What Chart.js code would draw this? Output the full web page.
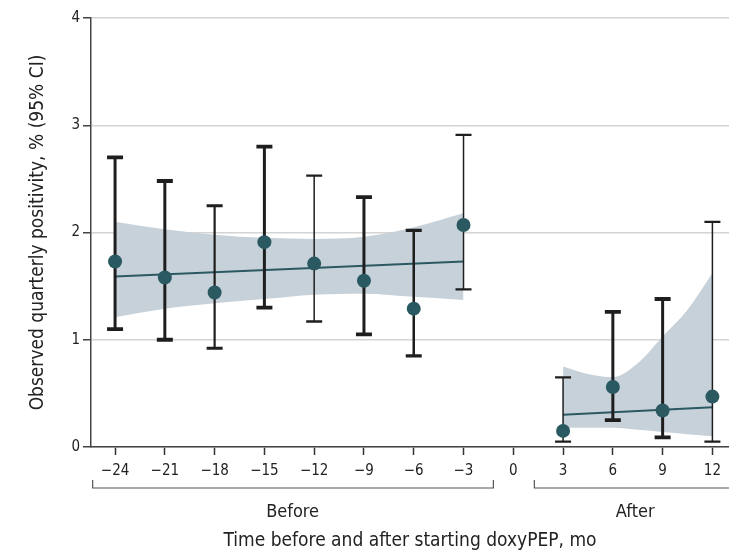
<!DOCTYPE html>
<html>
<head>
<meta charset="utf-8">
<script src="https://cdn.jsdelivr.net/npm/chart.js@4.4.1/dist/chart.umd.min.js"></script>
<style>
  body { margin: 0; background: #fff; }
  #wrap { width: 729px; height: 553px; }
</style>
</head>
<body>
<div id="wrap"><canvas id="myChart" width="729" height="553"></canvas></div>
<script>
const FONT = "'DejaVu Sans Condensed', 'Liberation Sans Narrow', sans-serif";

// observed quarterly positivity with 95% CI
const beforeMonths = [-24, -21, -18, -15, -12, -9, -6, -3];
const beforeObs = [1.73, 1.58, 1.44, 1.91, 1.71, 1.55, 1.29, 2.07];
const beforeLo = [1.10, 1.00, 0.92, 1.30, 1.17, 1.05, 0.85, 1.47];
const beforeHi = [2.70, 2.48, 2.25, 2.80, 2.53, 2.33, 2.02, 2.91];

const afterMonths = [3, 6, 9, 12];
const afterObs = [0.15, 0.56, 0.34, 0.47];
const afterLo = [0.05, 0.25, 0.09, 0.05];
const afterHi = [0.65, 1.26, 1.38, 2.10];

// fitted trend and its confidence band
const trendBeforeX = [-24, -3];
const trendBeforeY = [1.59, 1.73];
const trendAfterX = [3, 12];
const trendAfterY = [0.30, 0.37];

const bandBeforeX = [-24, -21, -18, -15, -12, -9, -6, -3];
const bandBeforeUpper = [2.10, 2.03, 1.98, 1.95, 1.94, 1.96, 2.05, 2.18];
const bandBeforeLower = [1.21, 1.29, 1.34, 1.38, 1.42, 1.43, 1.40, 1.37];

const bandAfterX = [3, 4.5, 6, 7.5, 9, 10.5, 12];
const bandAfterUpper = [0.75, 0.68, 0.65, 0.78, 1.03, 1.28, 1.62];
const bandAfterLower = [0.18, 0.18, 0.18, 0.16, 0.14, 0.12, 0.10];

const xTicks = [-24, -21, -18, -15, -12, -9, -6, -3, 0, 3, 6, 9, 12];
const yTicks = [0, 1, 2, 3, 4];

const months = beforeMonths.concat(afterMonths);
const obs = beforeObs.concat(afterObs);
const lo = beforeLo.concat(afterLo);
const hi = beforeHi.concat(afterHi);

const pts = (xs, ys) => xs.map((x, i) => ({ x: x, y: ys[i] }));

const BAND = '#c7d1d9';
const TEAL = '#2b5962';

const errorBars = {
  id: 'errorBars',
  beforeDatasetDraw(chart, args, opts) {
    if (args.index !== 0) return;
    const { ctx, scales: { x, y } } = chart;
    ctx.save();
    ctx.strokeStyle = opts.color;
    months.forEach((m, i) => {
      const px = x.getPixelForValue(m);
      const top = y.getPixelForValue(hi[i]);
      const bot = y.getPixelForValue(lo[i]);
      const w = opts.weights[i];
      ctx.lineWidth = w;
      ctx.beginPath();
      ctx.moveTo(px, top);
      ctx.lineTo(px, bot);
      ctx.stroke();
      ctx.lineWidth = w + 0.8;
      ctx.beginPath();
      ctx.moveTo(px - opts.cap, top);
      ctx.lineTo(px + opts.cap, top);
      ctx.moveTo(px - opts.cap, bot);
      ctx.lineTo(px + opts.cap, bot);
      ctx.stroke();
    });
    ctx.restore();
  }
};

const periodBrackets = {
  id: 'periodBrackets',
  afterDraw(chart, args, opts) {
    const { ctx, scales: { x } } = chart;
    const yLine = x.top + opts.offset;
    ctx.save();
    ctx.strokeStyle = '#555';
    ctx.lineWidth = 1.2;
    ctx.fillStyle = '#222';
    ctx.font = '18px ' + FONT;
    ctx.textAlign = 'center';
    ctx.textBaseline = 'middle';
    opts.groups.forEach(g => {
      const x0 = x.getPixelForValue(g.from);
      const x1 = Math.min(x.getPixelForValue(g.to), chart.width);
      ctx.beginPath();
      ctx.moveTo(x0, yLine - 8);
      ctx.lineTo(x0, yLine);
      ctx.lineTo(x1, yLine);
      if (g.closeRight) ctx.lineTo(x1, yLine - 8);
      ctx.stroke();
      ctx.fillText(g.label, x.getPixelForValue(g.labelAt), yLine + 24);
    });
    ctx.restore();
  }
};

new Chart(document.getElementById('myChart'), {
  type: 'scatter',
  data: {
    datasets: [
      {
        data: pts(months, obs),
        showLine: false,
        pointRadius: 7,
        pointBackgroundColor: TEAL,
        pointBorderWidth: 0,
        order: 0
      },
      {
        data: pts(trendBeforeX, trendBeforeY),
        showLine: true, borderColor: TEAL, borderWidth: 2, pointRadius: 0, order: 1
      },
      {
        data: pts(trendAfterX, trendAfterY),
        showLine: true, borderColor: TEAL, borderWidth: 2, pointRadius: 0, order: 1
      },
      {
        data: pts(bandBeforeX, bandBeforeUpper),
        showLine: true, borderWidth: 0, borderColor: BAND, backgroundColor: BAND,
        pointRadius: 0, fill: '+1', cubicInterpolationMode: 'monotone', order: 2
      },
      {
        data: pts(bandBeforeX, bandBeforeLower),
        showLine: true, borderWidth: 0, borderColor: BAND,
        pointRadius: 0, cubicInterpolationMode: 'monotone', order: 2
      },
      {
        data: pts(bandAfterX, bandAfterUpper),
        showLine: true, borderWidth: 0, borderColor: BAND, backgroundColor: BAND,
        pointRadius: 0, fill: '+1', cubicInterpolationMode: 'monotone', order: 2
      },
      {
        data: pts(bandAfterX, bandAfterLower),
        showLine: true, borderWidth: 0, borderColor: BAND,
        pointRadius: 0, cubicInterpolationMode: 'monotone', order: 2
      }
    ]
  },
  options: {
    responsive: false,
    animation: false,
    layout: { autoPadding: false, padding: { top: 18, left: 0, right: 0, bottom: 0 } },
    plugins: {
      legend: { display: false },
      tooltip: { enabled: false },
      errorBars: {
        color: '#1e1e1e',
        cap: 8,
        weights: [3, 3, 2.2, 3, 1.5, 3, 2.5, 1.5, 1.5, 3, 3, 1.5]
      },
      periodBrackets: {
        offset: 41,
        groups: [
          { from: -25.35, to: -1.2, label: 'Before', labelAt: -13.3, closeRight: true },
          { from: 1.27, to: 14, label: 'After', labelAt: 7.35, closeRight: false }
        ]
      }
    },
    scales: {
      x: {
        type: 'linear',
        min: -25.45,
        max: 13,
        afterBuildTicks: s => { s.ticks = xTicks.map(v => ({ value: v })); },
        afterFit: s => { s.height = 106; s.paddingLeft = 0; s.paddingRight = 0; },
        grid: { drawOnChartArea: false, tickLength: 8, tickColor: '#333', tickWidth: 1.5 },
        border: { display: true, color: '#444', width: 1.5 },
        ticks: {
          padding: 7,
          color: '#222',
          font: { family: FONT, size: 15 },
          callback: v => (v < 0 ? '\u2212' + Math.abs(v) : String(v))
        },
        title: {
          display: true,
          text: 'Time before and after starting doxyPEP, mo',
          color: '#222',
          font: { family: FONT, size: 19 },
          padding: { top: 0, bottom: 1 }
        }
      },
      y: {
        min: 0,
        max: 4,
        afterBuildTicks: s => { s.ticks = yTicks.map(v => ({ value: v })); },
        afterFit: s => { s.width = 91; },
        grid: { color: '#d4d4d4', lineWidth: 1.5, tickLength: 8, tickColor: '#444', tickWidth: 1.5 },
        border: { display: true, color: '#444', width: 1.5 },
        ticks: {
          padding: 3,
          color: '#222',
          font: { family: FONT, size: 15 }
        },
        title: {
          display: true,
          text: 'Observed quarterly positivity, % (95% CI)',
          color: '#222',
          font: { family: FONT, size: 19 },
          padding: { top: 27, bottom: 0 }
        }
      }
    }
  },
  plugins: [errorBars, periodBrackets]
});
</script>
</body>
</html>
